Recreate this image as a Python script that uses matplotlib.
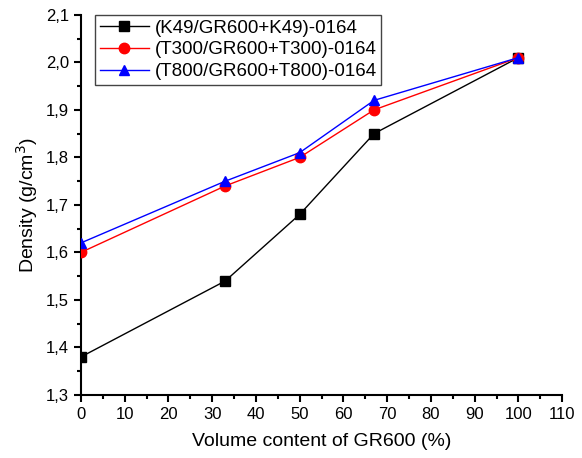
import matplotlib
matplotlib.use("Agg")
import matplotlib.pyplot as plt
from matplotlib.ticker import MultipleLocator, FuncFormatter

plt.rcParams["font.family"] = ["Liberation Sans", "DejaVu Sans"]

volume = [0, 33, 50, 67, 100]
k49 = [1.38, 1.54, 1.68, 1.85, 2.01]
t300 = [1.60, 1.74, 1.80, 1.90, 2.01]
t800 = [1.62, 1.75, 1.81, 1.92, 2.01]

fig = plt.figure(figsize=(5.82, 4.58), dpi=100)
ax = fig.add_axes([0.139, 0.1376, 0.827, 0.83])

ax.plot(volume, k49, color="black", marker="s", markersize=6.5, linewidth=1,
        label="(K49/GR600+K49)-0164", zorder=3)
ax.plot(volume, t300, color="red", marker="o", markersize=7.5, linewidth=1,
        label="(T300/GR600+T300)-0164", zorder=3)
ax.plot(volume, t800, color="blue", marker="^", markersize=7.5, linewidth=1,
        label="(T800/GR600+T800)-0164", zorder=3)

ax.set_xlim(0, 110)
ax.set_ylim(1.3, 2.1)
ax.xaxis.set_major_locator(MultipleLocator(10))
ax.xaxis.set_minor_locator(MultipleLocator(5))
ax.yaxis.set_major_locator(MultipleLocator(0.1))
ax.yaxis.set_minor_locator(MultipleLocator(0.05))
ax.yaxis.set_major_formatter(FuncFormatter(lambda v, p: f"{v:.1f}".replace(".", ",")))

for side in ("top", "right"):
    ax.spines[side].set_visible(False)
for side in ("left", "bottom"):
    ax.spines[side].set_linewidth(1.5)
ax.tick_params(which="major", direction="out", length=5, width=1.5, labelsize=12)
ax.tick_params(which="minor", direction="out", length=3, width=1.5)

ax.set_xlabel("Volume content of GR600 (%)", fontsize=14, labelpad=8)
ax.set_ylabel("Density (g/cm$^3$)", fontsize=14, labelpad=4)

leg = ax.legend(loc="upper left", bbox_to_anchor=(0.03, 1.0), fontsize=13.5,
                fancybox=False, framealpha=1, edgecolor="#444444",
                handlelength=2.6, borderpad=0.25, labelspacing=0.25,
                handletextpad=0.3, borderaxespad=0)
leg.get_frame().set_linewidth(1)

fig.savefig("out.png", dpi=100)
